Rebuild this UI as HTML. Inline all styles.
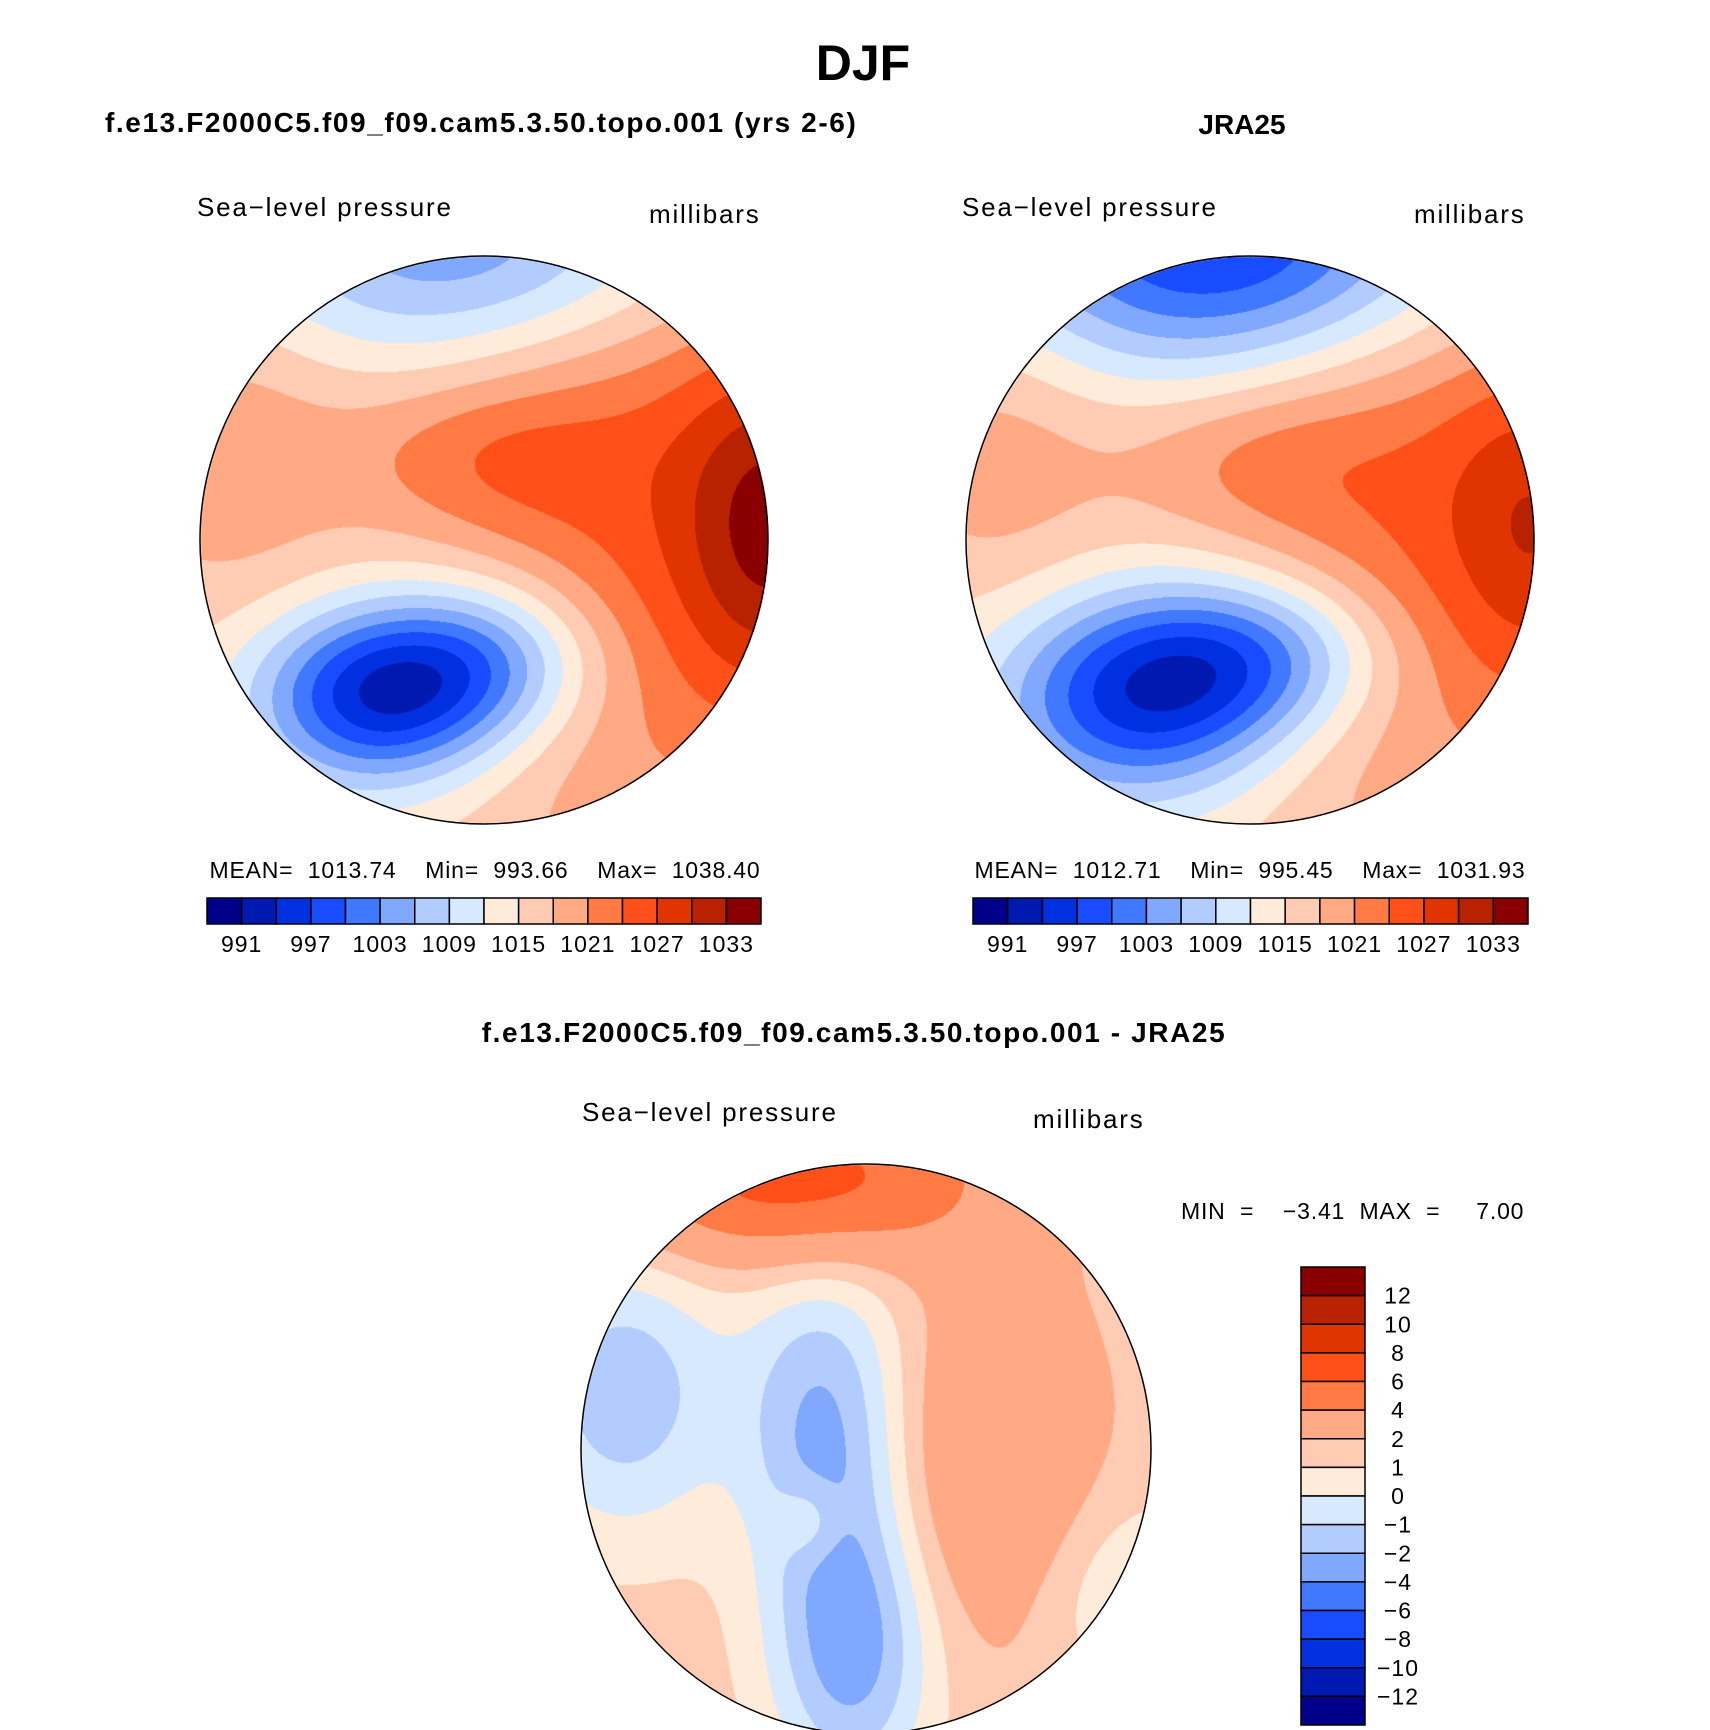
<!DOCTYPE html>
<html><head><meta charset="utf-8"><style>
body{margin:0;background:#fff;}
#root{position:relative;width:1710px;height:1730px;overflow:hidden;font-family:"Liberation Sans",sans-serif;}
.t{position:absolute;white-space:nowrap;color:#000;}
canvas{position:absolute;}
svg text{white-space:pre;}
</style></head><body>
<div id="root">
<div class="t" style="left:0;width:1726px;text-align:center;top:34px;font-size:50px;font-weight:bold;">DJF</div>
<div class="t" style="left:105px;top:107px;font-size:28px;font-weight:bold;letter-spacing:1.6px;">f.e13.F2000C5.f09_f09.cam5.3.50.topo.001 (yrs 2-6)</div>
<div class="t" style="left:1142px;width:200px;text-align:center;top:109px;font-size:28px;font-weight:bold;">JRA25</div>
<div class="t" style="left:454px;width:800px;text-align:center;top:1017px;font-size:28px;font-weight:bold;letter-spacing:1.6px;">f.e13.F2000C5.f09_f09.cam5.3.50.topo.001 - JRA25</div>
<svg id="svg" width="1710" height="1730" style="position:absolute;left:0;top:0"></svg>
</div>
<script>
// contour levels and colors
const absLevels=[991,994,997,1000,1003,1006,1009,1012,1015,1018,1021,1024,1027,1030,1033];
const absLabels=["991","997","1003","1009","1015","1021","1027","1033"];
const diffLevels=[-12,-10,-8,-6,-4,-2,-1,0,1,2,4,6,8,10,12];
const diffLabels=["12","10","8","6","4","2","1","0","−1","−2","−4","−6","−8","−10","−12"];
const colors=["#00008a","#0019b0","#0030e0","#1a4cff","#4078ff","#80a8ff","#b3ccff","#d7e9ff","#ffebd9","#ffcbb3","#ffaa85","#ff7a45","#ff5019","#e03500","#b82200","#8a0000"];
// pressure features: [u, v, amplitude, sx, sy] (u,v in unit-circle coords)
const modelBase=1015;
const modelCenters=[[1.05,-0.05,14,0.25,0.45],[0.55,-0.1,9,0.5,0.9],[-0.38,0.55,-20,0.3,0.22],[0.02,0.42,-12,0.28,0.2],[0.0,-1.05,-13,0.6,0.3],[-0.9,-0.3,5,0.3,0.4],[-0.05,-0.3,5,0.35,0.2]];
const obsBase=1014.5;
const obsCenters=[[1.05,-0.05,10,0.25,0.45],[0.55,-0.1,9,0.5,0.9],[-0.38,0.55,-19,0.35,0.25],[0.05,0.4,-12,0.32,0.2],[-0.05,-1.05,-20,0.6,0.33],[-0.9,-0.3,5,0.3,0.4],[-0.05,-0.3,4,0.35,0.2]];
const diffBase=1.5;
const diffCenters=[[-0.25,-0.95,5.5,0.45,0.2],[0.45,0.05,2.5,0.25,0.45],[-0.15,-0.1,-3.6,0.2,0.4],[-0.05,0.7,-4,0.2,0.35],[-0.85,-0.2,-3.2,0.25,0.35],[0.9,0.5,-1.5,0.25,0.25],[-0.2,0.25,1.5,0.08,0.1]];
const meanTexts=["MEAN=  1013.74    Min=  993.66    Max=  1038.40","MEAN=  1012.71    Min=  995.45    Max=  1031.93"];

const svg=document.getElementById('svg');
const root=document.getElementById('root');
const NS="http://www.w3.org/2000/svg";
function mk(tag,attrs,name){const e=document.createElementNS(NS,tag);for(const k in attrs)e.setAttribute(k,attrs[k]);


svg.appendChild(e);return e;}
function txt(x,y,s,size,anchor,name,ls){const e=mk('text',{x:x,y:y,'font-size':size,'text-anchor':anchor||'start','font-family':'Liberation Sans, sans-serif',fill:'#000','letter-spacing':ls||0},name);e.setAttributeNS("http://www.w3.org/XML/1998/namespace","xml:space","preserve");e.textContent=s;return e;}
function field(base,cs,u,v){let f=base;for(const c of cs){const dx=(u-c[0])/c[3],dy=(v-c[1])/c[4];f+=c[2]*Math.exp(-0.5*(dx*dx+dy*dy));}return f;}
function levelIdx(levels,f){let i=0;while(i<levels.length&&f>=levels[i])i++;return i;}
function drawMap(cx,cy,r,base,cs,levels,name){
  const cv=document.createElement('canvas');cv.width=2*r;cv.height=2*r;
  cv.style.left=(cx-r)+'px';cv.style.top=(cy-r)+'px';
  
  
  root.insertBefore(cv,svg);
  const ctx=cv.getContext('2d');const img=ctx.createImageData(2*r,2*r);
  const rgb=colors.map(h=>[parseInt(h.substr(1,2),16),parseInt(h.substr(3,2),16),parseInt(h.substr(5,2),16)]);
  for(let y=0;y<2*r;y++)for(let x=0;x<2*r;x++){const u=(x-r)/r,v=(y-r)/r;if(u*u+v*v>1)continue;
    const c=rgb[levelIdx(levels,field(base,cs,u,v))];const p=(y*2*r+x)*4;img.data[p]=c[0];img.data[p+1]=c[1];img.data[p+2]=c[2];img.data[p+3]=255;}
  ctx.putImageData(img,0,0);
  mk('circle',{cx:cx,cy:cy,r:r,fill:'none',stroke:'#000','stroke-width':1.5},name+'-border');
}
function hbar(x0,x1,y0,h,prefix){const w=(x1-x0)/16;
  for(let i=0;i<16;i++)mk('rect',{x:x0+i*w,y:y0,width:w,height:h,fill:colors[i],stroke:'#000','stroke-width':1.5},prefix+'-box');
  absLabels.forEach((s,k)=>txt(x0+(2*k+1)*w,y0+h+28,s,23,'middle',prefix+'-label',1));}
function panel(cx,cy,name){txt(cx-288,216,'Sea−level pressure',26,'start',name+'-variable-label',1.8);txt(cx+164,223,'millibars',26,'start',name+'-units-label',1.8);}

drawMap(484,540,284,modelBase,modelCenters,absLevels,'model-map');
drawMap(1250,540,284,obsBase,obsCenters,absLevels,'obs-map');
drawMap(866,1449,285,diffBase,diffCenters,diffLevels,'diff-map');
panel(485,540,'model');panel(1250,540,'obs');
txt(485,878,meanTexts[0],23,'middle','model-stats',0.8);
txt(1250,878,meanTexts[1],23,'middle','obs-stats',0.8);
hbar(207,761,898,26,'model-colorbar');
hbar(973,1528,898,26,'obs-colorbar');
txt(582,1121,'Sea−level pressure',26,'start','diff-variable-label',1.8);
txt(1033,1128,'millibars',26,'start','diff-units-label',1.8);
txt(1181,1219,'MIN  =    −3.41  MAX  =     7.00',23,'start','diff-stats',0.8);
(function(){const x=1301,w=64,y0=1267,h=(1725-1267)/16;
  for(let i=0;i<16;i++)mk('rect',{x:x,y:y0+i*h,width:w,height:h,fill:colors[15-i],stroke:'#000','stroke-width':1.5},'diff-colorbar-box');
  diffLabels.forEach((s,k)=>txt(1398,y0+(k+1)*h+8,s,23,'middle','diff-colorbar-label',1));})();
</script>
</body></html>
